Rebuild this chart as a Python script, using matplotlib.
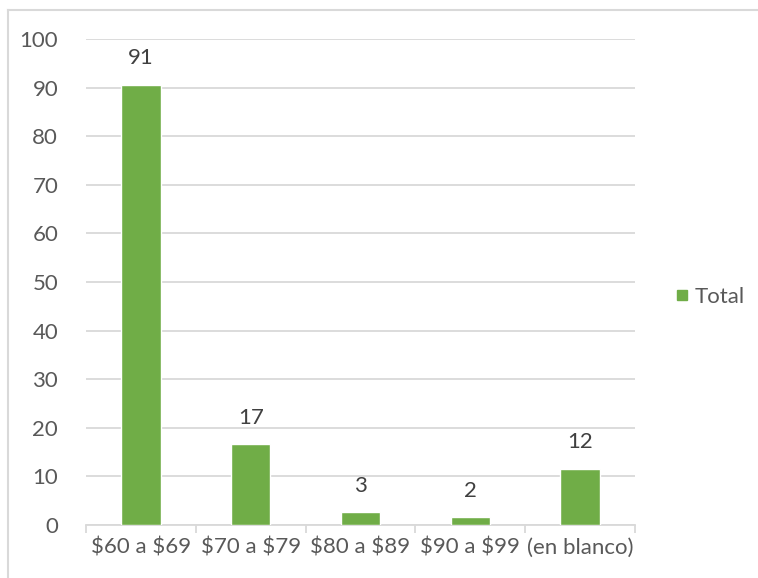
import matplotlib.pyplot as plt
from matplotlib.lines import Line2D

# Data
categories = ["$60 a $69", "$70 a $79", "$80 a $89", "$90 a $99", "(en blanco)"]
totals = [90.6, 16.6, 2.6, 1.6, 11.6]
y_ticks = [0, 10, 20, 30, 40, 50, 60, 70, 80, 90, 100]

green = "#70AD47"
grey_text = "#595959"
grid_grey = "#D9D9D9"

plt.rcParams['font.family'] = ['Lato', 'DejaVu Sans']
plt.rcParams['text.parse_math'] = False  # keep the $ signs literal

fig = plt.figure(figsize=(7.58, 5.78), dpi=100)
ax = fig.add_axes([86 / 758, 53 / 578, 549 / 758, 486 / 578])

x = range(len(categories))
bars = ax.bar(x, totals, width=0.36, color=green, edgecolor="white", linewidth=1,
              label="Total", zorder=3)

# value labels, rounded like Excel shows them
for b, v in zip(bars, totals):
    ax.text(b.get_x() + b.get_width() / 2, v + 3.4, f"{v:.0f}", ha="center", va="bottom",
            fontsize=16, color="#404040")

ax.set_xlim(-0.5, len(categories) - 0.5)
ax.set_ylim(0, 100)
ax.set_yticks(y_ticks)
ax.yaxis.grid(True, color=grid_grey, linewidth=1.3, zorder=0)
ax.set_axisbelow(True)

ax.set_xticks(x)
ax.set_xticklabels(categories)
ax.set_xticks([i - 0.5 for i in range(len(categories) + 1)], minor=True)
ax.tick_params(axis="x", which="major", length=0, pad=9, labelsize=16, labelcolor=grey_text)
ax.tick_params(axis="x", which="minor", length=6, width=1.3, color=grid_grey, direction="out")
ax.tick_params(axis="y", length=0, pad=20, labelsize=16, labelcolor=grey_text)

for s in ["top", "right", "left"]:
    ax.spines[s].set_visible(False)
ax.spines["bottom"].set_color(grid_grey)
ax.spines["bottom"].set_linewidth(1.3)

leg = fig.legend(handles=[Line2D([], [], marker="s", linestyle="", color=green, markersize=7)],
                 labels=["Total"], loc="center left", bbox_to_anchor=(675 / 758, 1 - 297 / 578),
                 frameon=False, fontsize=16, handletextpad=0.3, handlelength=0.6,
                 borderpad=0, borderaxespad=0)
for t in leg.get_texts():
    t.set_color(grey_text)

# chart area border (left and top only visible)
fig.add_artist(Line2D([8 / 758, 8 / 758], [0, 1 - 10 / 578], color=grid_grey, linewidth=1.5,
                      transform=fig.transFigure))
fig.add_artist(Line2D([8 / 758, 757 / 758], [1 - 10 / 578, 1 - 10 / 578], color=grid_grey,
                      linewidth=1.5, transform=fig.transFigure))

fig.savefig("out.png", dpi=100)
